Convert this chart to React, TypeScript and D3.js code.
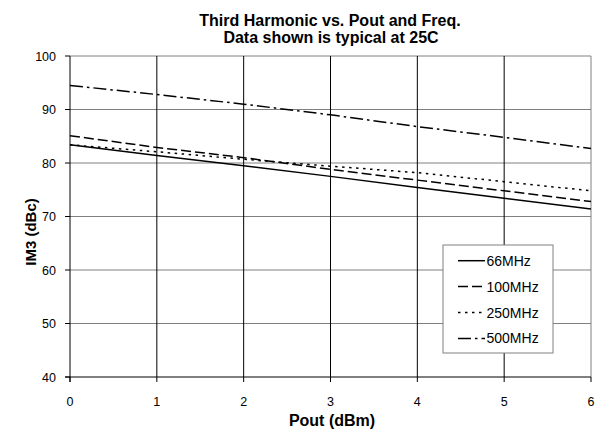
import { useMemo } from 'react';
import * as d3 from 'd3';

const pout = [0, 1, 2, 3, 4, 5, 6];
const im3_66 = [83.4, 81.4, 79.5, 77.5, 75.4, 73.4, 71.4];
const im3_100 = [85.1, 82.9, 81.0, 78.8, 76.8, 74.8, 72.8];
const im3_250 = [83.4, 82.1, 80.7, 79.4, 78.2, 76.5, 74.8];
const im3_500 = [94.5, 92.8, 91.0, 89.0, 86.8, 84.8, 82.7];
const seriesNames = ['66MHz', '100MHz', '250MHz', '500MHz'];
const yTicks = [40, 50, 60, 70, 80, 90, 100];

const W = 599;
const H = 430;
const margin = { top: 56, right: 8, bottom: 53, left: 70 };
const dashes = ['none', '10,4', '2.5,4.5', '13,4,2.5,4'];
const font = 'Arial, "Liberation Sans", sans-serif';

export default function App() {
    const series = [im3_66, im3_100, im3_250, im3_500];

    // skálák
    const xScale = useMemo(() => d3.scaleLinear().domain([0, 6]).range([margin.left, W - margin.right]), []);
    const yScale = useMemo(() => d3.scaleLinear().domain([40, 100]).range([H - margin.bottom, margin.top]), []);

    const line = d3.line<number>()
        .x((_, i) => xScale(pout[i]))
        .y((d) => yScale(d));

    const x0 = xScale(0), x1 = xScale(6);
    const y0 = yScale(40), y1 = yScale(100);

    const legendX = 443, legendY = 245, legendW = 110, legendH = 108;

    return (
        <svg width={W} height={H} style={{ position: 'absolute', left: 0, top: 0 }} fontFamily={font}>
            <rect width={W} height={H} fill="#fff" />
            {/* vízszintes rácsvonalak */}
            {yTicks.filter(t => t > 40).map(t => (
                <line key={'h' + t} x1={x0} x2={x1} y1={yScale(t)} y2={yScale(t)} stroke="#808080" strokeWidth={1} />
            ))}
            {/* függőleges rácsvonalak */}
            {pout.filter(p => p > 0 && p < 6).map(p => (
                <line key={'v' + p} x1={xScale(p)} x2={xScale(p)} y1={y1} y2={y0} stroke="#000" strokeWidth={1} />
            ))}
            <line x1={x1} x2={x1} y1={y1} y2={y0} stroke="#808080" />
            {/* tengelyek */}
            <line x1={x0} x2={x0} y1={y1} y2={y0 + 5} stroke="#000" />
            <line x1={x0 - 5} x2={x1} y1={y0} y2={y0} stroke="#000" />
            {yTicks.map(t => (
                <g key={'yt' + t}>
                    <line x1={x0 - 5} x2={x0} y1={yScale(t)} y2={yScale(t)} stroke="#000" />
                    <text x={x0 - 14} y={yScale(t) + 4.5} textAnchor="end" fontSize={12.5}>{t}</text>
                </g>
            ))}
            {pout.map(p => (
                <g key={'xt' + p}>
                    <line x1={xScale(p)} x2={xScale(p)} y1={y0} y2={y0 + 5} stroke="#000" />
                    <text x={xScale(p)} y={406} textAnchor="middle" fontSize={12.5}>{p}</text>
                </g>
            ))}
            {series.map((s, i) => (
                <path key={seriesNames[i]} d={line(s) || ''} fill="none" stroke="#000" strokeWidth={1.5}
                    strokeDasharray={dashes[i]} />
            ))}
            {/* címek */}
            <text x={330} y={25.8} textAnchor="middle" fontSize={16} fontWeight="bold">Third Harmonic vs. Pout and Freq.</text>
            <text x={331} y={42.5} textAnchor="middle" fontSize={16} fontWeight="bold">Data shown is typical at 25C</text>
            <text x={332} y={425.8} textAnchor="middle" fontSize={16} fontWeight="bold">Pout (dBm)</text>
            <text transform={`translate(36, 232) rotate(-90)`} textAnchor="middle" fontSize={15} fontWeight="bold">IM3 (dBc)</text>
            {/* jelmagyarázat */}
            <rect x={legendX} y={legendY} width={legendW} height={legendH} fill="#fff" stroke="#808080" />
            {seriesNames.map((n, i) => {
                const yy = legendY + 15.7 + i * 25.9;
                return (
                    <g key={'lg' + n}>
                        <line x1={legendX + 15} x2={legendX + 42} y1={yy} y2={yy} stroke="#000" strokeWidth={1.5}
                            strokeDasharray={dashes[i]} />
                        <text x={legendX + 43.5} y={yy + 5} fontSize={14}>{n}</text>
                    </g>
                );
            })}
        </svg>
    );
}
